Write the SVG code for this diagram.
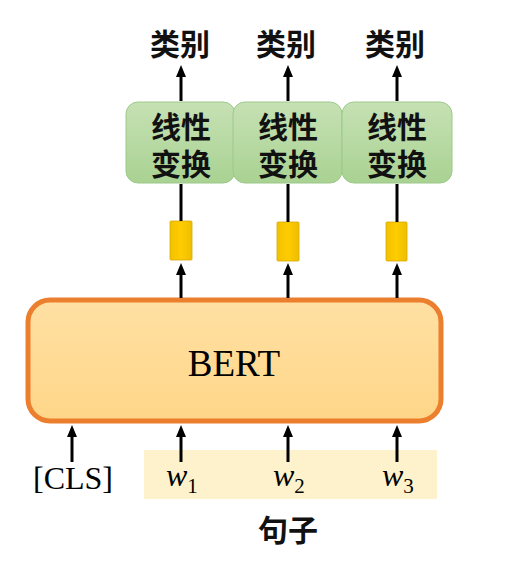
<svg xmlns="http://www.w3.org/2000/svg" width="511" height="566" viewBox="0 0 511 566">
<style>
.cjk{font-family:"Noto Sans CJK SC","Noto Sans CJK JP",sans-serif;font-size:30px;font-weight:700;fill:#111;text-anchor:middle}
.lat{font-family:"Liberation Serif","Times New Roman",serif;fill:#000}
.conn{stroke:#000;stroke-width:3;fill:none}
.green{fill:url(#gg);stroke:#9CC98A;stroke-width:1}
.vec{fill:url(#yg);stroke:#D9A800;stroke-width:0.8}
</style>
<defs>
<marker id="ah" viewBox="0 0 12 10" refX="0" refY="5" markerWidth="12" markerHeight="10" markerUnits="userSpaceOnUse" orient="auto">
<path d="M0,0 L12,5 L0,10 Z" fill="#000"/>
</marker>
<linearGradient id="gg" x1="0" y1="0" x2="0" y2="1">
<stop offset="0" stop-color="#C6E1B4"/>
<stop offset="1" stop-color="#A9D292"/>
</linearGradient>
<linearGradient id="yg" x1="0" y1="0" x2="1" y2="0">
<stop offset="0" stop-color="#F2C200"/>
<stop offset="0.5" stop-color="#FFCC00"/>
<stop offset="1" stop-color="#EEBE00"/>
</linearGradient>
<linearGradient id="og" x1="0" y1="0" x2="0" y2="1">
<stop offset="0" stop-color="#FFE0A3"/>
<stop offset="1" stop-color="#FFD688"/>
</linearGradient>
</defs>
<rect width="511" height="566" fill="#fff"/>

<g id="sentence">
<rect x="144" y="450" width="293" height="49" fill="#FDF2CC"/>
<text class="cjk" x="288" y="541">句子</text>
</g>

<g id="bert">
<rect x="28" y="300" width="413" height="121" rx="22" fill="url(#og)" stroke="#EC7F2E" stroke-width="5"/>
<text class="lat" x="234" y="376" font-size="37" text-anchor="middle">BERT</text>
</g>

<g id="linear1"><rect class="green" x="126" y="102" width="109" height="81" rx="12"/><text class="cjk" x="181" y="138">线性</text><text class="cjk" x="181" y="175">变换</text></g>
<g id="linear2"><rect class="green" x="233" y="102" width="109" height="81" rx="12"/><text class="cjk" x="288" y="138">线性</text><text class="cjk" x="288" y="175">变换</text></g>
<g id="linear3"><rect class="green" x="342" y="102" width="110" height="81" rx="12"/><text class="cjk" x="397" y="138">线性</text><text class="cjk" x="397" y="175">变换</text></g>

<g id="vec1"><rect class="vec" x="170" y="221" width="22" height="39" rx="1"/></g>
<g id="vec2"><rect class="vec" x="277" y="222" width="22" height="39" rx="1"/></g>
<g id="vec3"><rect class="vec" x="386" y="222" width="21" height="39" rx="1"/></g>

<g id="out1"><text class="cjk" x="180" y="55">类别</text></g>
<g id="out2"><text class="cjk" x="286" y="55">类别</text></g>
<g id="out3"><text class="cjk" x="395" y="55">类别</text></g>

<g id="tokens">
<text class="lat" x="73" y="489" font-size="32" text-anchor="middle">[CLS]</text>
<text class="lat" x="166" y="486" font-size="32" font-style="italic">w<tspan font-size="21" font-style="normal" dy="7">1</tspan></text>
<text class="lat" x="273" y="486" font-size="32" font-style="italic">w<tspan font-size="21" font-style="normal" dy="7">2</tspan></text>
<text class="lat" x="382" y="486" font-size="32" font-style="italic">w<tspan font-size="21" font-style="normal" dy="7">3</tspan></text>
</g>

<g id="connectors">
<line class="conn" x1="181" y1="101" x2="181" y2="77" marker-end="url(#ah)"/>
<line class="conn" x1="288" y1="101" x2="288" y2="77" marker-end="url(#ah)"/>
<line class="conn" x1="397" y1="101" x2="397" y2="77" marker-end="url(#ah)"/>
<line class="conn" x1="181" y1="184" x2="181" y2="221"/>
<line class="conn" x1="288" y1="184" x2="288" y2="222"/>
<line class="conn" x1="397" y1="184" x2="397" y2="222"/>
<line class="conn" x1="181" y1="298" x2="181" y2="275" marker-end="url(#ah)"/>
<line class="conn" x1="288" y1="298" x2="288" y2="275" marker-end="url(#ah)"/>
<line class="conn" x1="397" y1="298" x2="397" y2="275" marker-end="url(#ah)"/>
<line class="conn" x1="72" y1="462" x2="72" y2="437" marker-end="url(#ah)"/>
<line class="conn" x1="181" y1="462" x2="181" y2="437" marker-end="url(#ah)"/>
<line class="conn" x1="288" y1="462" x2="288" y2="437" marker-end="url(#ah)"/>
<line class="conn" x1="397" y1="462" x2="397" y2="437" marker-end="url(#ah)"/>
</g>
</svg>
